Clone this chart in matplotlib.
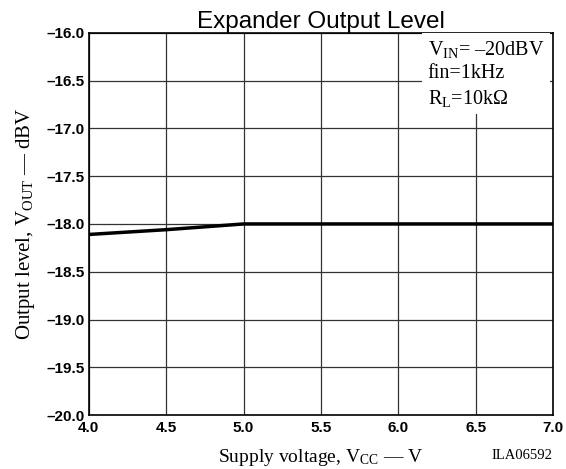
import matplotlib
matplotlib.use('Agg')
import matplotlib.pyplot as plt

# Supply voltage (V) vs expander output level (dBV)
vcc = [4.0, 4.5, 5.0, 5.5, 6.0, 6.5, 7.0]
vout = [-18.11, -18.06, -18.0, -18.0, -18.0, -18.0, -18.0]

x_ticks = [4.0, 4.5, 5.0, 5.5, 6.0, 6.5, 7.0]
y_ticks = [-16.0, -16.5, -17.0, -17.5, -18.0, -18.5, -19.0, -19.5, -20.0]

plt.rcParams['mathtext.fontset'] = 'custom'
plt.rcParams['mathtext.rm'] = 'Liberation Serif'
plt.rcParams['mathtext.it'] = 'Liberation Serif:italic'
plt.rcParams['mathtext.sf'] = 'Liberation Sans'

fig = plt.figure(figsize=(5.66, 4.69), dpi=100)
ax = fig.add_axes([0.157, 0.115, 0.820, 0.815])

ax.plot(vcc, vout, color='black', linewidth=2.5, zorder=3)

ax.set_xlim(4.0, 7.0)
ax.set_ylim(-20.0, -16.0)
ax.set_xticks(x_ticks)
ax.set_yticks(y_ticks)
ax.set_xticklabels(['%.1f' % v for v in x_ticks])
ax.set_yticklabels(['\u2013%.1f' % abs(v) for v in y_ticks])
ax.tick_params(length=0, labelsize=11)
ax.tick_params(axis='y', pad=3)
ax.tick_params(axis='x', pad=4)
for lab in ax.get_xticklabels() + ax.get_yticklabels():
    lab.set_fontfamily('Liberation Sans')
    lab.set_fontweight('bold')
ax.grid(True, color='#333333', linewidth=0.9)
for s in ax.spines.values():
    s.set_linewidth(1.2)

ax.set_title('Expander Output Level', fontsize=17.5, family='Liberation Sans', pad=1)
ax.set_xlabel(r'Supply voltage, V$_{\mathrm{CC}}$ — V', family='Liberation Serif', fontsize=14, labelpad=9)
ax.set_ylabel(r'Output level, V$_{\mathrm{OUT}}$ — dBV', family='Liberation Serif', fontsize=15, labelpad=7)

ax.text(0.73, 0.985, 'V$_{\\mathrm{IN}}$= \u201320dBV\nfin=1kHz\nR$_{\\mathrm{L}}$=10k\u03a9',
        transform=ax.transAxes, ha='left', va='top', family='Liberation Serif', fontsize=14.5,
        linespacing=1.3, zorder=4,
        bbox=dict(facecolor='white', edgecolor='none', pad=4))

fig.text(0.975, 0.015, 'ILA06592', ha='right', va='bottom', family='Liberation Serif', fontsize=10.5)

plt.savefig('out.png', dpi=100)
plt.close()
